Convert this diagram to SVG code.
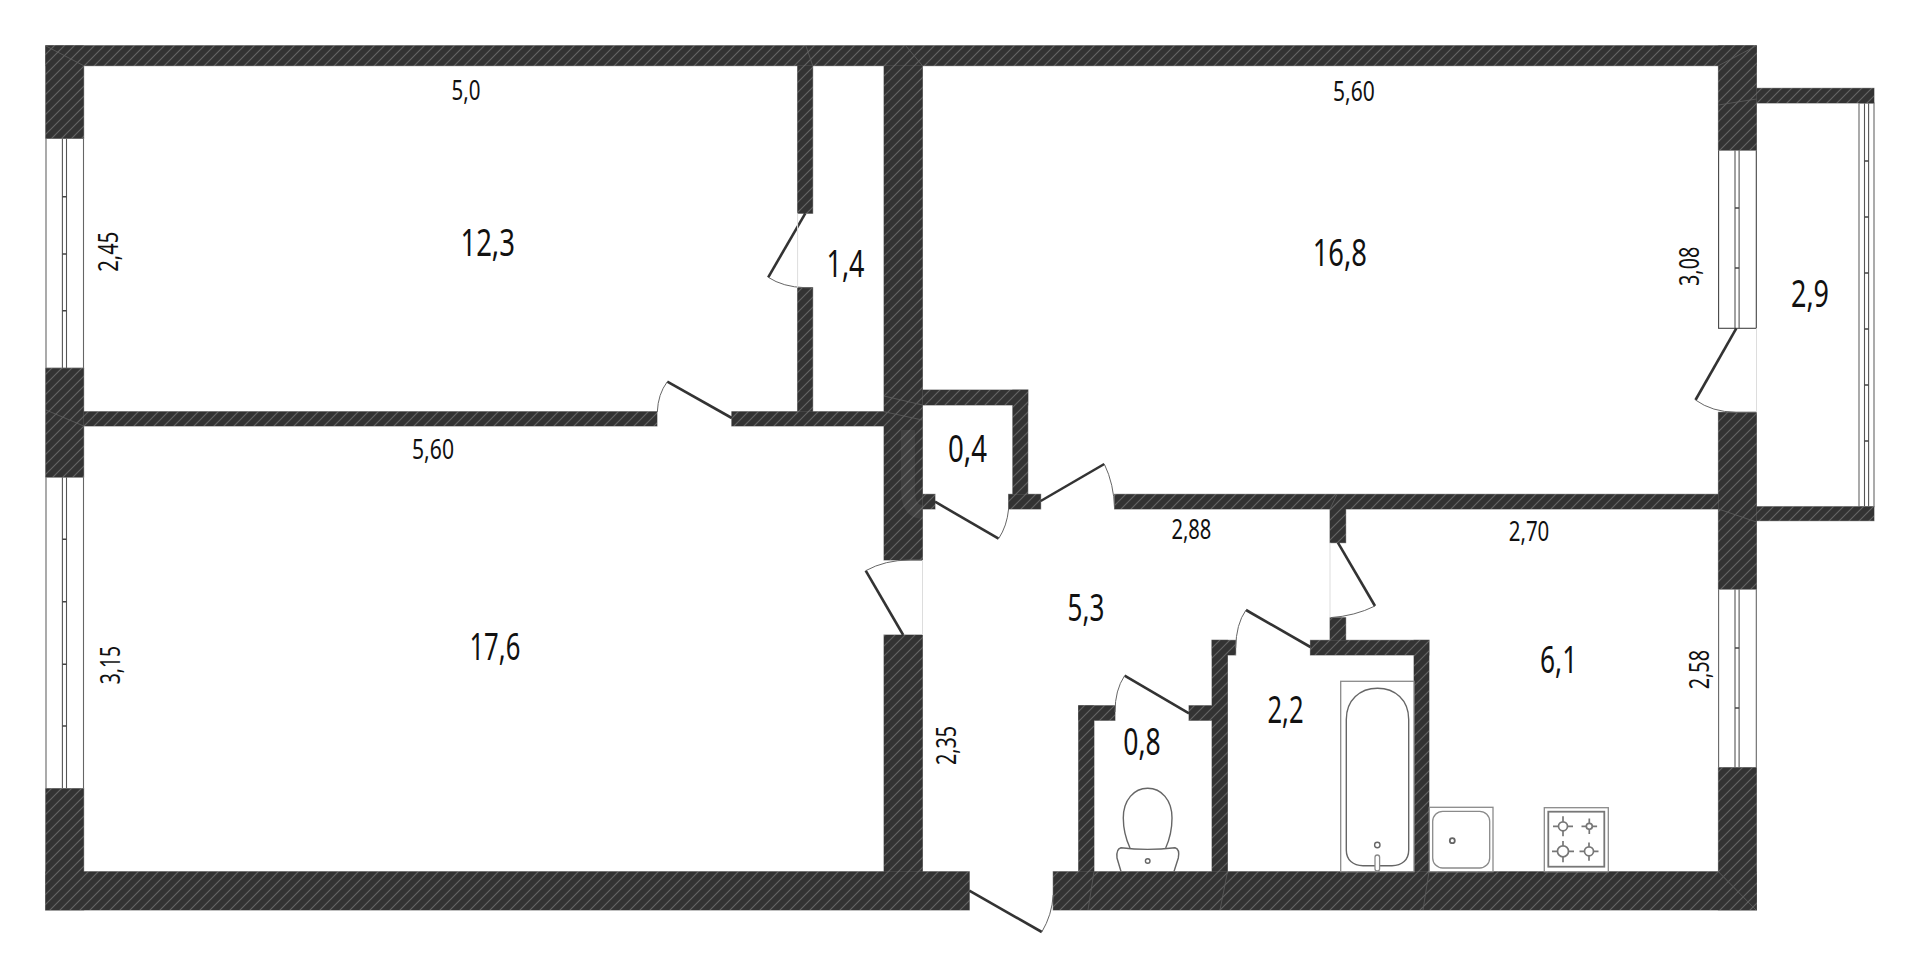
<svg xmlns="http://www.w3.org/2000/svg" width="1920" height="956" viewBox="0 0 1920 956">
<style>
text{font-family:"Noto Sans","Liberation Sans",sans-serif;fill:#111}
.big{font-size:37.500px}
.small{font-size:28px}
.leaf{stroke:#333;stroke-width:2.600;fill:none;stroke-linecap:butt}
.arc{stroke:#666;stroke-width:1;fill:none}
.sill{stroke:#ddd;stroke-width:1;fill:none}
.win{fill:#fff;stroke:#666;stroke-width:1.100}
.frame{fill:#fff;stroke:#555;stroke-width:1.100}
.tick{fill:none;stroke:#444;stroke-width:1.400}
.fix{fill:#fff;stroke:#8a8a8a;stroke-width:1.300}
.fixd{fill:none;stroke:#666;stroke-width:1.400}
.joint{stroke:#5e5e5e;stroke-width:.8;fill:none}
</style>
<defs>
<pattern id="hatch" patternUnits="userSpaceOnUse" width="10" height="10">
<rect width="10" height="10" fill="#333"/>
<path d="M-3 13 L13 -3 M-3 3 L3 -3 M7 13 L13 7" stroke="#636363" stroke-width="1.150" fill="none"/>
</pattern>
<g id="wallshape">
<rect x="45.700" y="45.700" width="1710.800" height="20"/>
<rect x="45.700" y="45.700" width="38" height="92.600"/>
<rect x="45.700" y="368.300" width="38" height="108.700"/>
<rect x="45.700" y="788.700" width="38" height="121.300"/>
<rect x="45.700" y="871.700" width="923.600" height="38.300"/>
<rect x="1053.200" y="871.700" width="703.300" height="38.300"/>
<rect x="1718.400" y="45.700" width="38.100" height="104.300"/>
<rect x="1718.400" y="412.300" width="38.100" height="176.700"/>
<rect x="1718.400" y="767.700" width="38.100" height="142.300"/>
<rect x="83.700" y="411.700" width="573.300" height="14.300"/>
<rect x="731.800" y="411.700" width="152.200" height="14.300"/>
<rect x="797.600" y="65.700" width="15.100" height="147.600"/>
<rect x="797.600" y="287.700" width="15.100" height="124"/>
<rect x="884" y="65.700" width="38.500" height="494.300"/>
<rect x="884" y="635" width="38.500" height="236.700"/>
<rect x="922.500" y="390" width="105.300" height="15"/>
<rect x="1012.800" y="390" width="15" height="104.300"/>
<rect x="1008.600" y="494.300" width="32.100" height="14.700"/>
<rect x="922.500" y="494.300" width="12.500" height="14.700"/>
<rect x="1114.600" y="494.300" width="603.800" height="14.700"/>
<rect x="1330" y="509" width="15.700" height="33.700"/>
<rect x="1330" y="617.700" width="15.700" height="22.600"/>
<rect x="1310.400" y="640.300" width="118.600" height="14.700"/>
<rect x="1414" y="640.300" width="15" height="231.400"/>
<rect x="1212" y="640.300" width="23.700" height="14.700"/>
<rect x="1212" y="640.300" width="15.500" height="231.400"/>
<rect x="1078.600" y="705.700" width="36.400" height="14.600"/>
<rect x="1078.600" y="705.700" width="15.400" height="166"/>
<rect x="1189" y="705.700" width="23" height="14.600"/>
<rect x="1756.500" y="88.300" width="117.500" height="14.700"/>
<rect x="1756.500" y="506.700" width="117.500" height="14"/>
</g>
</defs>
<rect width="1920" height="956" fill="#fff"/>

<g id="windows">
<g id="window-1">
<rect class="win" x="46" y="138.300" width="37.500" height="230"/>
<rect class="frame" x="62.400" y="138.300" width="4.100" height="230"/>
<path class="tick" d="M62.400 196.700h4.100M62.400 254h4.100M62.400 310.700h4.100"/>
</g>
<g id="window-2">
<rect class="win" x="46" y="477" width="37.500" height="311.700"/>
<rect class="frame" x="62.400" y="477" width="4.100" height="311.700"/>
<path class="tick" d="M62.400 539.300h4.100M62.400 601.700h4.100M62.400 664.300h4.100M62.400 726h4.100"/>
</g>
<g id="window-3">
<rect class="win" x="1718.600" y="150" width="37.700" height="178.300" style="stroke:#444"/>
<rect class="frame" x="1735" y="150" width="4.100" height="178.300"/>
<path class="tick" d="M1735 208h4.100M1735 268h4.100"/>
</g>
<g id="window-4">
<rect class="win" x="1718.600" y="589" width="37.700" height="178.700"/>
<rect class="frame" x="1735" y="589" width="4.100" height="178.700"/>
<path class="tick" d="M1735 648h4.100M1735 708h4.100"/>
</g>
<g id="window-balcony">
<rect class="win" x="1859" y="103" width="15" height="403.700"/>
<rect class="frame" x="1864.500" y="103" width="4.100" height="403.700"/>
<path class="tick" d="M1864.500 161h4.100M1864.500 217h4.100M1864.500 273h4.100M1864.500 329h4.100M1864.500 385h4.100M1864.500 441h4.100"/>
</g>
</g>

<g id="walls">
<use href="#wallshape" fill="#808080" stroke="#808080" stroke-width="1"/>
<use href="#wallshape" fill="url(#hatch)"/>
<g id="wall-joints">
<path class="joint" d="M46 46L83.700 65.700M1718.400 65.700L1756 46M46 410L83.700 426M884 396L922.500 405M884 411.700L922.500 420M806 46L812.700 65.700M906 46L922.500 65.700M1718.400 105L1756.500 99M1718.400 871.700L1756 910M1718.400 509L1756.500 522M1330 509L1337 494.300M1220 910L1227.500 871.700M1094 871.700L1088 910M1429 871.700L1423 910"/>
<path d="M908 430V490Q908 512 922.500 512" fill="none" stroke="#fff" stroke-opacity=".06" stroke-width="14"/>
</g>
</g>

<g id="doors">
<g id="door-bedroom">
<path class="leaf" d="M731.800 418L667.300 381.700"/><path class="arc" d="M667.300 381.700Q658 394 657.300 412"/>
</g>
<g id="door-storage">
<path class="leaf" d="M805.300 213.300L768.200 277.300"/><path class="arc" d="M768.200 277.300Q783 287 805 287.700H812.700"/><path class="sill" d="M797.600 213.300V287.700"/>
</g>
<g id="door-room">
<path class="leaf" d="M903.200 635L865.700 570.700"/><path class="arc" d="M865.700 570.700Q885 560 910 560H922.500"/><path class="sill" d="M922.500 560V635"/>
</g>
<g id="door-closet">
<path class="leaf" d="M935 501.700L998.600 538.700"/><path class="arc" d="M998.600 538.700Q1007 526 1008.600 509"/>
</g>
<g id="door-living">
<path class="leaf" d="M1040.700 501L1104.300 464"/><path class="arc" d="M1104.300 464Q1114 484 1114.600 509"/>
</g>
<g id="door-kitchen">
<path class="leaf" d="M1337.900 542.700L1375 606"/><path class="arc" d="M1375 606Q1355 616 1330 617.700"/><path class="sill" d="M1330 542.700V617.700"/>
</g>
<g id="door-bath">
<path class="leaf" d="M1310.400 647L1246 610"/><path class="arc" d="M1246 610Q1236 624 1235.700 648"/>
</g>
<g id="door-wc">
<path class="leaf" d="M1189 713.300L1124.600 675.700"/><path class="arc" d="M1124.600 675.700Q1115 690 1115 712"/>
</g>
<g id="door-entrance">
<path class="leaf" d="M969.300 890.700L1041.800 932"/><path class="arc" d="M1041.800 932Q1052 915 1053.200 895"/>
</g>
<g id="door-balcony">
<path class="leaf" d="M1736.300 328.300L1695.500 400"/><path class="arc" d="M1695.500 400Q1712 412 1736 412.300H1756.500"/><path class="sill" d="M1756.500 328.300V412.300"/>
</g>
</g>

<g id="fixtures">
<g id="toilet">
<path class="fixd" d="M1130 848C1124 835 1123.300 825 1123.300 818C1123.300 800 1134 788.300 1147.700 788.300C1161.400 788.300 1172 800 1172 818C1172 825 1171.500 835 1165.700 848"/>
<path class="fixd" d="M1121 871.500L1117 858Q1116 849 1121 847.700Q1147 851 1175 847.700Q1180 849 1178.300 858L1174 871.500"/>
<circle class="fixd" cx="1147.700" cy="861" r="2.300"/>
</g>
<g id="bathtub">
<rect class="fix" x="1340.700" y="681.300" width="73.300" height="190.400"/>
<path class="fixd" d="M1346.300 719.500C1346.300 700 1360 688.300 1377.500 688.300C1395 688.300 1408.700 700 1408.700 719.500V850C1408.700 860 1402 865.700 1392 865.700H1363C1353 865.700 1346.300 860 1346.300 850Z"/>
<circle class="fixd" cx="1377.300" cy="845" r="2.700"/>
<rect class="fix" x="1375" y="855" width="4.600" height="16" rx="2.300"/>
</g>
<g id="sink">
<rect class="fix" x="1429.300" y="807.300" width="63.700" height="64.400"/>
<rect class="fix" x="1432.700" y="811.300" width="57" height="56.700" rx="10"/>
<circle class="fixd" cx="1452.300" cy="840.700" r="2.500" style="stroke-width:1.800"/>
</g>
<g id="stove">
<rect class="fix" x="1544.300" y="807.700" width="64" height="64"/>
<rect class="fix" x="1548.300" y="811.700" width="56" height="55" style="stroke-width:1.800;stroke:#777"/>
<g class="fixd" style="stroke:#777;stroke-width:1.700">
<circle cx="1563" cy="826.300" r="4.500"/><path d="M1553 826.300h5.500M1567.500 826.300h5.500M1563 816.300v5.500M1563 830.800v5.500"/>
<circle cx="1589.300" cy="826.300" r="3"/><path d="M1581.500 826.300h4.800M1592.300 826.300h4.800M1589.300 818.500v4.800M1589.300 829.300v4.800"/>
<circle cx="1563" cy="851.300" r="5.500"/><path d="M1552 851.300h5.500M1568.500 851.300h5.500M1563 841v4.800M1563 856.800v5.500"/>
<circle cx="1589" cy="851.300" r="4.500"/><path d="M1579.500 851.300h5M1593.500 851.300h5M1589 842.500v4.300M1589 855.800v5"/>
</g>
</g>
</g>

<g id="labels">
<text class="big" x="460.400" y="255.700" textLength="54.600" lengthAdjust="spacingAndGlyphs">12,3</text>
<text class="big" x="826.500" y="276.700" textLength="38" lengthAdjust="spacingAndGlyphs">1,4</text>
<text class="big" x="469.400" y="660" textLength="51" lengthAdjust="spacingAndGlyphs">17,6</text>
<text class="big" x="1312.700" y="265.700" textLength="54.300" lengthAdjust="spacingAndGlyphs">16,8</text>
<text class="big" x="1791" y="306.700" textLength="38" lengthAdjust="spacingAndGlyphs">2,9</text>
<text class="big" x="948" y="462.300" textLength="39" lengthAdjust="spacingAndGlyphs">0,4</text>
<text class="big" x="1067.500" y="620.700" textLength="36.800" lengthAdjust="spacingAndGlyphs">5,3</text>
<text class="big" x="1123.200" y="755" textLength="37.500" lengthAdjust="spacingAndGlyphs">0,8</text>
<text class="big" x="1267.500" y="723.300" textLength="36.100" lengthAdjust="spacingAndGlyphs">2,2</text>
<text class="big" x="1540" y="672.700" textLength="37.300" lengthAdjust="spacingAndGlyphs">6,1</text>
<text class="small" x="451.400" y="100" textLength="29" lengthAdjust="spacingAndGlyphs">5,0</text>
<text class="small" x="412" y="459.300" textLength="42" lengthAdjust="spacingAndGlyphs">5,60</text>
<text class="small" x="1333" y="101.300" textLength="41.700" lengthAdjust="spacingAndGlyphs">5,60</text>
<text class="small" x="1171.400" y="538.700" textLength="40" lengthAdjust="spacingAndGlyphs">2,88</text>
<text class="small" x="1508.700" y="541" textLength="40.600" lengthAdjust="spacingAndGlyphs">2,70</text>
<text class="small" transform="translate(117.500 271.700) rotate(-90)" textLength="40" lengthAdjust="spacingAndGlyphs">2,45</text>
<text class="small" transform="translate(120 684.300) rotate(-90)" textLength="38.300" lengthAdjust="spacingAndGlyphs">3,15</text>
<text class="small" transform="translate(1699 286) rotate(-90)" textLength="39.300" lengthAdjust="spacingAndGlyphs">3,08</text>
<text class="small" transform="translate(955.500 765) rotate(-90)" textLength="39" lengthAdjust="spacingAndGlyphs">2,35</text>
<text class="small" transform="translate(1709 689.300) rotate(-90)" textLength="39.300" lengthAdjust="spacingAndGlyphs">2,58</text>
</g>
</svg>
